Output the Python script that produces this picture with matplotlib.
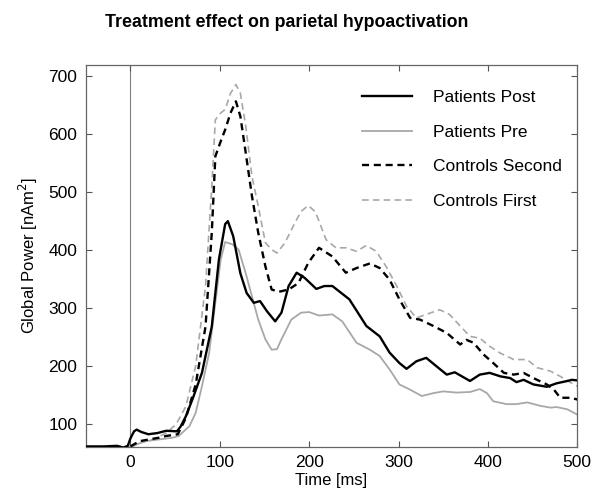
import matplotlib
matplotlib.use("Agg")
import matplotlib.pyplot as plt

plt.rcParams['font.family'] = ['Liberation Sans', 'DejaVu Sans']

# Time (ms) and values (nAm^2)
post_t = [-50, -30, -15, -8, -3, 0, 4, 7, 12, 20, 30, 40, 52, 56, 62, 70, 80, 91, 99, 106, 109, 115, 123,
          130, 138, 145, 153, 162, 169, 177, 186, 195, 208, 217, 226, 245, 264, 279, 290, 301, 309,
          320, 331, 342, 354, 363, 380, 391, 402, 414, 425, 432, 440, 451, 466, 477, 489, 494, 500]
post_v = [61, 61, 62, 59, 62, 75, 87, 90, 86, 82, 84, 88, 87, 95, 113, 145, 188, 268, 384, 445, 450, 424, 360,
          326, 309, 312, 294, 277, 292, 338, 361, 352, 333, 338, 338, 315, 269, 251, 223, 205, 195,
          208, 214, 200, 185, 189, 174, 185, 188, 182, 179, 172, 176, 168, 164, 170, 174, 176, 175]

pre_t = [-5, 6, 17, 32, 47, 54, 66, 73, 80, 88, 95, 101, 106, 114, 121, 129, 136, 143, 151, 158, 164,
         169, 180, 191, 200, 211, 226, 237, 253, 268, 279, 290, 301, 313, 326, 339, 350, 365, 380,
         391, 399, 406, 421, 432, 444, 459, 470, 477, 489, 500]
pre_v = [58, 64, 70, 73, 76, 79, 96, 119, 165, 222, 309, 384, 414, 410, 401, 360, 320, 280, 246, 228, 229,
         246, 280, 292, 293, 287, 289, 277, 240, 228, 217, 194, 168, 159, 148, 153, 156, 154, 155,
         160, 153, 139, 134, 134, 137, 131, 128, 129, 125, 116]

csec_t = [0, 10, 21, 32, 40, 53, 62, 73, 84, 91, 95, 101, 106, 112, 118, 123, 129, 136, 143, 151, 158,
          166, 177, 188, 199, 211, 226, 241, 253, 268, 279, 290, 301, 313, 324, 339, 354, 369, 376,
          384, 395, 406, 418, 429, 440, 451, 466, 474, 481, 493, 500]
csec_v = [61, 70, 73, 76, 79, 82, 110, 168, 268, 430, 562, 588, 608, 637, 657, 631, 568, 493, 430, 372, 332,
          328, 332, 343, 378, 404, 389, 361, 369, 377, 369, 349, 315, 283, 280, 269, 257, 237, 245,
          240, 220, 205, 188, 185, 188, 179, 168, 159, 145, 145, 142]

cfir_t = [0, 10, 25, 40, 51, 62, 73, 84, 91, 95, 101, 106, 112, 118, 123, 129, 136, 143, 151, 158, 164,
          173, 184, 191, 199, 207, 219, 230, 241, 253, 264, 275, 286, 298, 309, 320, 331, 346, 357,
          369, 380, 391, 402, 414, 429, 444, 455, 470, 481, 493, 500]
cfir_v = [59, 67, 73, 84, 99, 130, 200, 338, 510, 625, 637, 643, 671, 686, 671, 614, 527, 476, 413, 401, 395,
          413, 447, 467, 477, 466, 418, 404, 404, 398, 408, 398, 372, 338, 303, 283, 289, 297, 289,
          269, 251, 248, 234, 222, 211, 211, 197, 191, 182, 171, 165]

labels = ["Patients Post", "Patients Pre", "Controls Second", "Controls First"]
x_ticks = [0, 100, 200, 300, 400, 500]
y_ticks = [100, 200, 300, 400, 500, 600, 700]

fig = plt.figure(figsize=(6.0, 4.95), dpi=100)
ax = fig.add_axes([0.143, 0.097, 0.819, 0.772])

grey = '#a8a8a8'
ax.axvline(0, color='#808080', lw=0.8, zorder=1)
ax.plot(cfir_t, cfir_v, color=grey, lw=1.2, ls=(0, (4, 2.5)), label=labels[3], zorder=2)
ax.plot(pre_t, pre_v, color=grey, lw=1.3, ls='-', label=labels[1], zorder=2)
ax.plot(csec_t, csec_v, color='black', lw=1.7, ls=(0, (3, 2)), label=labels[2], zorder=3)
ax.plot(post_t, post_v, color='black', lw=1.7, ls='-', label=labels[0], zorder=4)

ax.set_xlim(-50, 500)
ax.set_ylim(60, 720)
ax.set_xticks(x_ticks)
ax.set_yticks(y_ticks)
ax.tick_params(direction='in', top=True, right=True, labelsize=12.5, length=4, color='#555555', pad=6)
for s in ax.spines.values():
    s.set_color('#666666')
    s.set_linewidth(0.9)

ax.set_xlabel("Time [ms]", fontsize=12, labelpad=2)
ax.set_ylabel("Global Power [nAm$^2$]", fontsize=12, labelpad=6)
fig.text(0.478, 0.955, "Treatment effect on parietal hypoactivation", fontsize=12.8,
         fontweight='bold', ha='center', va='center')

hd = dict(zip(*reversed(ax.get_legend_handles_labels())))
ax.legend([hd[x] for x in labels], labels, loc='upper right', frameon=False, fontsize=12.5,
          handlelength=2.9, labelspacing=1.12, bbox_to_anchor=(1.0, 0.975), handletextpad=1.2)

fig.savefig("out.png", dpi=100)
